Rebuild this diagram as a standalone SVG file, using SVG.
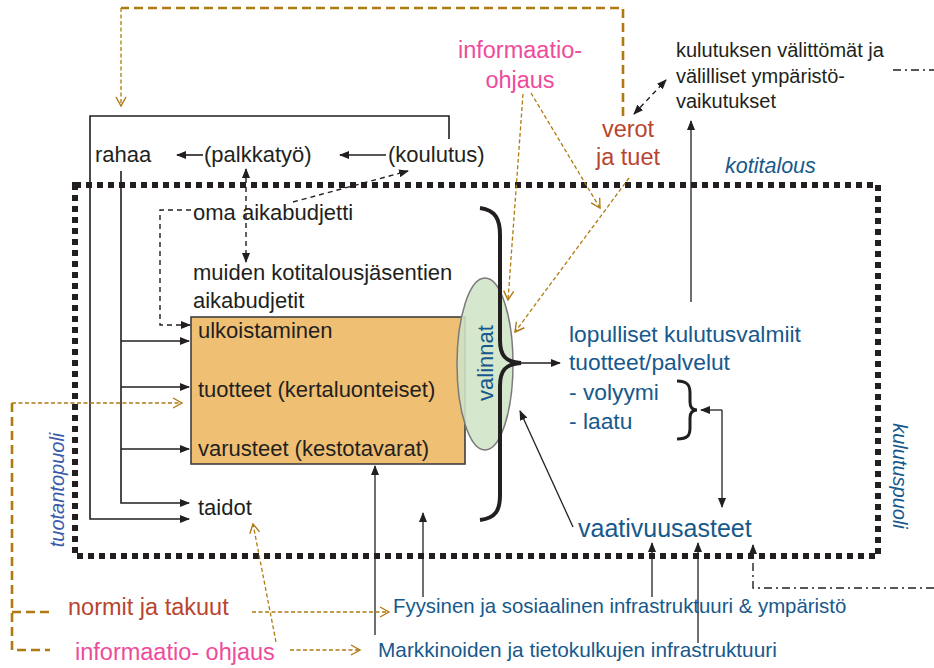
<svg xmlns="http://www.w3.org/2000/svg" width="934" height="668" viewBox="0 0 934 668">
<defs>
<marker id="ab" markerWidth="10" markerHeight="8" refX="9" refY="4" orient="auto" markerUnits="userSpaceOnUse">
<path d="M0,0 L10,4 L0,8 Z" fill="#231F20"/>
</marker>
<marker id="abs" markerWidth="10" markerHeight="8" refX="1" refY="4" orient="auto" markerUnits="userSpaceOnUse">
<path d="M10,0 L0,4 L10,8 Z" fill="#231F20"/>
</marker>
<marker id="ag" markerWidth="12" markerHeight="12" refX="10" refY="6" orient="auto" markerUnits="userSpaceOnUse">
<path d="M1,1 L10,6 L1,11" fill="none" stroke="#B07A12" stroke-width="1.4"/>
</marker>
</defs>
<style>
text{font-family:"Liberation Sans",Arial,sans-serif;fill:#231F20;font-size:22px}
.blue{fill:#17598C}
.pink{fill:#EE4B9B;font-size:23.5px}
.red{fill:#B8452F;font-size:23.5px}
.it{font-style:italic}
.ln{fill:none;stroke:#231F20;stroke-width:1.6}
.thin{fill:none;stroke:#231F20;stroke-width:1.3}
.dash{fill:none;stroke:#231F20;stroke-width:1.4;stroke-dasharray:5,4}
.gthin{fill:none;stroke:#B07A12;stroke-width:1.3;stroke-dasharray:4,2.5}
.gthick{fill:none;stroke:#B07A12;stroke-width:2.6;stroke-dasharray:9,5}
.dd{fill:none;stroke:#231F20;stroke-width:1.4;stroke-dasharray:8,4,2,4}
</style>
<rect width="934" height="668" fill="#ffffff"/>

<g id="kotitalous-border">
<path d="M75,185 L878,185 L878,556 L75,556 Z" fill="none" stroke="#231F20" stroke-width="6" stroke-dasharray="6,5"/>
</g>

<g id="connectors">
<path class="ln" d="M449,139 L449,116 L90,116 L90,519 L189,519" marker-end="url(#ab)"/>
<path class="ln" d="M121,171 L121,503 L189,503" marker-end="url(#ab)"/>
<path class="ln" d="M121,341 L189,341" marker-end="url(#ab)"/>
<path class="ln" d="M121,387 L189,387" marker-end="url(#ab)"/>
<path class="ln" d="M121,449 L189,449" marker-end="url(#ab)"/>
<path class="ln" d="M203,155 L177,155" marker-end="url(#ab)"/>
<path class="ln" d="M386,155 L340,155" marker-end="url(#ab)"/>
<path class="dash" d="M246,169 L246,262" marker-start="url(#abs)" marker-end="url(#ab)"/>
<path class="dash" d="M293,202 L408,171" marker-end="url(#ab)"/>
<path class="dash" d="M191,210 L160,210 L160,325 L190,325" marker-end="url(#ab)"/>
<path d="M238,403 L238,433" fill="none" stroke="#231F20" stroke-width="1" stroke-dasharray="1.5,1.5"/>
<circle cx="238" cy="403" r="3.8" fill="#231F20"/>
<circle cx="238" cy="433" r="3.8" fill="#231F20"/>
<path class="ln" d="M520,363 L560,363" marker-end="url(#ab)"/>
<path class="thin" d="M722,410 L701,410" marker-end="url(#ab)"/>
<path class="thin" d="M722,410 L722,507" marker-end="url(#ab)"/>
<path class="thin" d="M573,527 L520,411" marker-end="url(#ab)"/>
<path class="thin" d="M691,302 L691,121" marker-end="url(#ab)"/>
<path class="dash" d="M634,114 L666,80" marker-start="url(#abs)" marker-end="url(#ab)"/>
<path class="thin" d="M375,635 L375,466" marker-end="url(#ab)"/>
<path class="thin" d="M423,597 L423,513" marker-end="url(#ab)"/>
<path class="thin" d="M652,597 L652,543" marker-end="url(#ab)"/>
<path class="thin" d="M698,643 L698,543" marker-end="url(#ab)"/>
<path class="dd" d="M934,588 L753,588 L753,545" marker-end="url(#ab)"/>
<path class="dd" d="M893,70 L934,70"/>
<path class="gthick" d="M623,116 L623,8 L121,8"/>
<path class="gthin" d="M121,8 L121,106" marker-end="url(#ag)"/>
<path class="gthin" d="M523,94 L508,300" marker-end="url(#ag)"/>
<path class="gthin" d="M531,93 L600,208" marker-end="url(#ag)"/>
<path class="gthin" d="M629,178 L515,332" marker-end="url(#ag)"/>
<path class="gthick" d="M12,403 L12,650 L50,650 M12,612 L50,612"/>
<path class="gthin" d="M12,403 L182,403" marker-end="url(#ag)"/>
<path class="gthin" d="M252,612 L389,612" marker-end="url(#ag)"/>
<path class="gthin" d="M290,650 L360,650" marker-end="url(#ag)"/>
<path class="gthin" d="M276,642 L253,524" marker-end="url(#ag)"/>
</g>

<g id="resources-box">
<rect x="191" y="317" width="274" height="147" fill="#EFBF74" stroke="#3F3F3F" stroke-width="1.6"/>
<text x="198" y="338">ulkoistaminen</text>
<text x="198" y="397">tuotteet (kertaluonteiset)</text>
<text x="198" y="456">varusteet (kestotavarat)</text>
</g>

<g id="valinnat">
<ellipse cx="485" cy="364" rx="28" ry="86" fill="#CFE4C6" fill-opacity="0.88" stroke="#7A7A7A" stroke-width="1.5"/>
<text class="blue" transform="translate(493,363) rotate(-90)" text-anchor="middle">valinnat</text>
</g>

<g id="brace">
<path d="M480,208 C496,210 500,220 500,235 L500,340 C500,355 505,362 521,363 C505,364 500,371 500,386 L500,495 C500,510 496,518 480,520" fill="none" stroke="#231F20" stroke-width="4"/>
</g>

<g id="rahaa"><text x="95" y="162">rahaa</text></g>
<g id="palkkatyo"><text x="204" y="162">(palkkatyö)</text></g>
<g id="koulutus"><text x="388" y="162">(koulutus)</text></g>
<g id="oma-aikabudjetti"><text x="193" y="220">oma aikabudjetti</text></g>
<g id="muiden-aikabudjetit"><text x="193" y="280">muiden kotitalousjäsentien</text><text x="193" y="308">aikabudjetit</text></g>
<g id="taidot"><text x="198" y="515">taidot</text></g>

<g id="lopulliset">
<text class="blue" x="569" y="342" style="font-size:22.8px">lopulliset kulutusvalmiit</text>
<text class="blue" x="569" y="370" style="font-size:22.8px">tuotteet/palvelut</text>
<text class="blue" x="569" y="400" style="font-size:22.8px">- volyymi</text>
<text class="blue" x="569" y="429" style="font-size:22.8px">- laatu</text>
<path d="M677,381 C688,381 690,386 690,393 L690,402 C690,407 692,410 697,410 C692,410 690,413 690,418 L690,428 C690,435 688,439 677,439" fill="none" stroke="#231F20" stroke-width="3"/>
</g>

<g id="vaativuusasteet"><text class="blue" x="578" y="537" style="font-size:25px">vaativuusasteet</text></g>

<g id="ymparistovaikutukset">
<text x="676" y="57" style="font-size:20px">kulutuksen välittömät ja</text>
<text x="676" y="83" style="font-size:20px">välilliset ympäristö-</text>
<text x="676" y="108" style="font-size:20px">vaikutukset</text>
</g>

<g id="verot"><text class="red" x="628" y="137" text-anchor="middle">verot</text><text class="red" x="628" y="165" text-anchor="middle">ja tuet</text></g>
<g id="informaatio-top"><text class="pink" x="520" y="58" text-anchor="middle">informaatio-</text><text class="pink" x="520" y="88" text-anchor="middle">ohjaus</text></g>

<g id="labels">
<text class="blue it" x="725" y="173" style="font-size:21.5px">kotitalous</text>
<text class="it" transform="translate(64,490) rotate(-90)" text-anchor="middle" style="fill:#3A5BAA;font-size:20px">tuotantopuoli</text>
<text class="blue it" transform="translate(893,476) rotate(90)" text-anchor="middle" style="font-size:20px">kulutuspuoli</text>
</g>

<g id="normit"><text class="red" x="68" y="615">normit ja takuut</text></g>
<g id="informaatio-bottom"><text class="pink" x="75" y="660">informaatio- ohjaus</text></g>
<g id="fyysinen"><text class="blue" x="393" y="613" style="font-size:20.4px">Fyysinen ja sosiaalinen infrastruktuuri &amp; ympäristö</text></g>
<g id="markkinoiden"><text class="blue" x="378" y="657" style="font-size:20.8px">Markkinoiden ja tietokulkujen infrastruktuuri</text></g>
</svg>
